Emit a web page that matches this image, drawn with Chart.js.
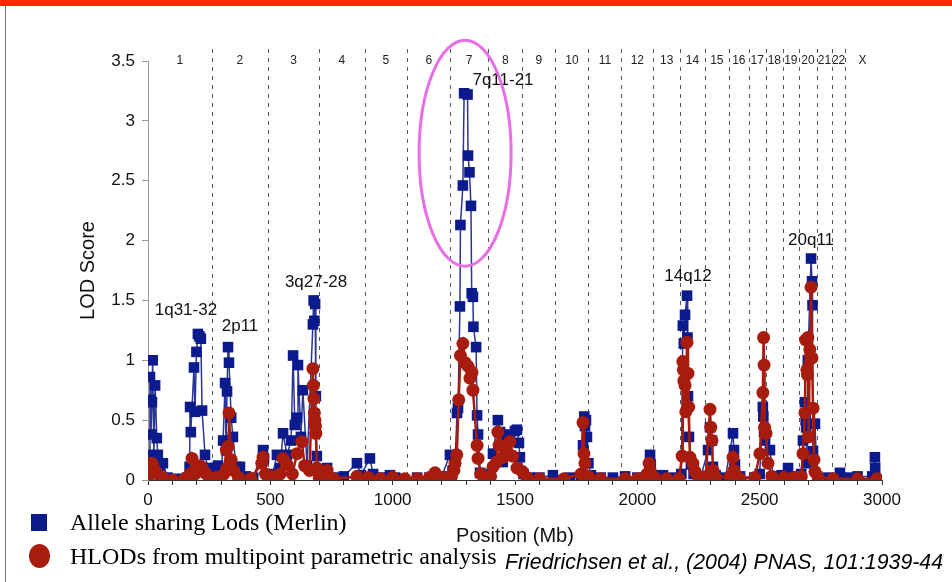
<!DOCTYPE html>
<html>
<head>
<meta charset="utf-8">
<title>LOD scores</title>
<script src="https://cdn.jsdelivr.net/npm/chart.js@4.4.0/dist/chart.umd.min.js"></script>
<style>
  body { margin: 0; background: #fff; }
  #wrap { position: relative; width: 952px; height: 582px; overflow: hidden; background: #fff; }
  #lodChart { position: absolute; left: 0; top: 0; }
  .topbar { position: absolute; left: 0; top: 0; width: 952px; height: 6px; background: #ff2a00; }
  .leftline { position: absolute; left: 5px; top: 6px; width: 1px; height: 576px; background: #777; }
  .sq { position: absolute; left: 31px; top: 514px; width: 16px; height: 17px; background: #0b1a8c; }
  .dot { position: absolute; left: 29px; top: 544px; width: 21px; height: 24px; border-radius: 50%; background: #a81c0e; }
  .leg { position: absolute; left: 70px; font-family: "Liberation Serif", "Times New Roman", serif; font-size: 24px; line-height: 24px; color: #000; white-space: nowrap; }
  .cite { position: absolute; left: 505px; top: 550px; font-family: "Liberation Sans", Arial, sans-serif; font-style: italic; font-size: 21.3px; line-height: 24px; color: #000; white-space: nowrap; }
</style>
</head>
<body>
<div id="wrap">
  <canvas id="lodChart" width="952" height="582"></canvas>
  <div class="topbar"></div>
  <div class="leftline"></div>
  <div class="sq"></div>
  <div class="leg" style="top:510px">Allele sharing Lods (Merlin)</div>
  <div class="dot"></div>
  <div class="leg" style="top:544px">HLODs from multipoint parametric analysis</div>
  <div class="cite">Friedrichsen et al., (2004) PNAS, 101:1939-44</div>
</div>
<script>
// chromosome starts (Mb), last entry is the end of X
const chromStarts = [0, 260, 490, 700, 885, 1060, 1235, 1390, 1530, 1665, 1800, 1935, 2065, 2175, 2275, 2375, 2455, 2525, 2595, 2660, 2735, 2795, 2850, 2990];
const chromNames = ['1', '2', '3', '4', '5', '6', '7', '8', '9', '10', '11', '12', '13', '14', '15', '16', '17', '18', '19', '20', '21', '22', 'X'];

// Allele sharing LODs (Merlin)
const blueX = [0, 5, 8, 11, 12, 16, 19, 24, 29, 36, 40, 48, 61, 80, 120, 160, 170, 172, 175, 188, 192, 198, 204, 210, 216, 221, 233, 245, 260,
  275, 286, 300, 307, 315, 319, 323, 327, 331, 340, 347, 360, 376, 400, 430, 470, 474, 490,
  510, 527, 540, 552, 568, 585, 593, 600, 609, 613, 625, 633, 650, 674, 677, 680, 683, 686, 690, 700,
  732, 760, 800, 854, 870, 907, 920, 950, 989, 1010, 1040, 1100, 1150, 1200, 1234,
  1245, 1255, 1263, 1267, 1275, 1277, 1287, 1292, 1306, 1308, 1314, 1320, 1323, 1328, 1330, 1341, 1345, 1349, 1357, 1380,
  1400, 1410, 1430, 1439, 1450, 1465, 1480, 1500, 1508, 1516, 1520, 1535, 1560, 1600, 1655,
  1725, 1770, 1778, 1783, 1786, 1790, 1794, 1800, 1810, 1850, 1900, 1950, 2000, 2040, 2052, 2055,
  2075, 2105, 2150, 2180, 2186, 2190, 2195, 2203, 2205, 2207, 2211, 2219, 2230,
  2260, 2289, 2297, 2305, 2309, 2320, 2360, 2391, 2395, 2399, 2420,
  2480, 2500, 2513, 2515, 2518, 2522, 2542, 2555, 2590, 2616, 2640,
  2670, 2677, 2685, 2688, 2690, 2693, 2697, 2710, 2714, 2716, 2718, 2726, 2735,
  2780, 2828, 2860, 2900, 2960, 2971, 2972, 2975];
const blueY = [0.10, 0.21, 0.86, 0.67, 0.38, 0.65, 1.00, 0.20, 0.79, 0.35, 0.21, 0.12, 0.14, 0.02, 0.01, 0.02, 0.11, 0.61, 0.40, 0.94, 0.57, 1.07, 1.22, 1.20, 1.18, 0.58, 0.21, 0.10, 0.05,
  0.10, 0.12, 0.06, 0.33, 0.81, 0.25, 0.74, 1.11, 0.98, 0.52, 0.36, 0.11, 0.11, 0.03, 0.02, 0.25, 0.18, 0.04,
  0.05, 0.21, 0.10, 0.39, 0.21, 0.33, 1.04, 0.46, 0.52, 0.96, 0.36, 0.75, 0.12, 1.30, 1.50, 1.33, 1.47, 0.70, 0.20, 0.05,
  0.10, 0.02, 0.03, 0.14, 0.04, 0.18, 0.05, 0.02, 0.04, 0.02, 0.01, 0.02, 0.02, 0.03, 0.21,
  0.08, 0.15, 0.56, 0.60, 1.45, 2.13, 2.46, 3.23, 3.22, 2.71, 2.57, 2.29, 1.56, 1.53, 1.28, 1.11, 0.54, 0.38, 0.06, 0.03,
  0.05, 0.22, 0.50, 0.40, 0.15, 0.35, 0.38, 0.41, 0.42, 0.31, 0.19, 0.05, 0.02, 0.02, 0.04,
  0.02, 0.03, 0.29, 0.53, 0.45, 0.50, 0.36, 0.14, 0.04, 0.02, 0.02, 0.03, 0.02, 0.04, 0.21, 0.13,
  0.04, 0.04, 0.02, 0.05, 1.29, 1.14, 1.38, 1.54, 1.19, 0.70, 0.36, 0.13, 0.05,
  0.03, 0.25, 0.44, 0.33, 0.11, 0.04, 0.02, 0.39, 0.25, 0.13, 0.03,
  0.02, 0.05, 0.61, 0.53, 0.40, 0.33, 0.25, 0.03, 0.04, 0.10, 0.03,
  0.05, 0.33, 0.65, 0.50, 0.44, 0.14, 1.00, 1.85, 1.66, 1.46, 0.24, 0.47, 0.03,
  0.02, 0.06, 0.02, 0.03, 0.03, 0.19, 0.10, 0.01];

// HLODs from multipoint parametric analysis
const redX = [0, 5, 10, 15, 20, 28, 40, 60, 100, 150, 172, 180, 192, 200, 213, 221, 233, 250,
  280, 310, 320, 323, 327, 331, 340, 350, 370, 420, 465, 470, 480,
  510, 540, 552, 568, 590, 609, 629, 640, 660, 674, 676, 678, 680, 682, 684, 686, 690, 700,
  720, 732, 760, 854, 900, 950, 1000, 1050, 1100, 1150, 1173, 1200,
  1240, 1250, 1255, 1262, 1270, 1277, 1287, 1296, 1308, 1316, 1324, 1328, 1345, 1349, 1360, 1380,
  1400, 1410, 1425, 1430, 1435, 1451, 1465, 1479, 1490, 1508, 1530, 1549,
  1600, 1700, 1770, 1778, 1782, 1786, 1800, 1850, 1950, 2000, 2040, 2048, 2052, 2070, 2120, 2170,
  2183, 2186, 2188, 2190, 2195, 2198, 2203, 2207, 2210, 2215, 2227, 2236, 2250,
  2280, 2297, 2300, 2305, 2309, 2320, 2380, 2391, 2395, 2420,
  2480, 2501, 2513, 2516, 2518, 2520, 2526, 2534, 2550, 2600, 2640,
  2670, 2677, 2685, 2688, 2693, 2695, 2697, 2700, 2705, 2710, 2714, 2718, 2722, 2726, 2740,
  2800, 2900, 2980];
const redY = [0.02, 0.05, 0.10, 0.14, 0.12, 0.08, 0.05, 0.02, 0.00, 0.01, 0.05, 0.18, 0.05, 0.08, 0.12, 0.10, 0.06, 0.02,
  0.02, 0.05, 0.25, 0.10, 0.28, 0.56, 0.17, 0.08, 0.02, 0.01, 0.14, 0.19, 0.05,
  0.03, 0.05, 0.18, 0.13, 0.05, 0.22, 0.32, 0.12, 0.08, 0.93, 0.79, 0.68, 0.56, 0.50, 0.45, 0.39, 0.10, 0.02,
  0.03, 0.08, 0.01, 0.03, 0.02, 0.01, 0.02, 0.01, 0.01, 0.02, 0.06, 0.02,
  0.03, 0.08, 0.14, 0.21, 0.67, 1.04, 1.14, 0.98, 0.95, 0.85, 0.90, 0.75, 0.29, 0.18, 0.05, 0.02,
  0.03, 0.11, 0.15, 0.40, 0.29, 0.19, 0.25, 0.32, 0.20, 0.10, 0.07, 0.02,
  0.01, 0.01, 0.05, 0.48, 0.22, 0.14, 0.03, 0.01, 0.01, 0.01, 0.05, 0.14, 0.08, 0.02, 0.01, 0.01,
  0.20, 0.99, 0.92, 0.83, 0.79, 0.57, 1.15, 0.89, 0.61, 0.19, 0.14, 0.07, 0.02,
  0.03, 0.59, 0.44, 0.33, 0.08, 0.02, 0.03, 0.19, 0.08, 0.01,
  0.02, 0.22, 0.73, 1.19, 0.96, 0.44, 0.39, 0.14, 0.03, 0.02, 0.02,
  0.03, 0.22, 0.56, 1.17, 0.92, 0.88, 1.19, 0.36, 1.09, 1.61, 1.02, 0.60, 0.17, 0.07, 0.02,
  0.01, 0.01, 0.01];

// peak annotations: text, position (Mb), LOD
const peakNames = ['1q31-32', '2p11', '3q27-28', '7q11-21', '14q12', '20q11'];
const peakX = [155, 376, 687, 1451, 2207, 2710];
const peakY = [1.42, 1.28, 1.65, 3.34, 1.70, 2.00];

const BLUE = '#0b1a8c';
const RED = '#a81c0e';
const FONT = '"Liberation Sans", Arial, Helvetica, sans-serif';

const toPoints = (xs, ys) => xs.map((x, i) => ({ x: x, y: ys[i] }));

// dashed chromosome borders, chromosome numbers, peak labels and the circled region
const decorPlugin = {
  id: 'decor',
  beforeDatasetsDraw(chart) {
    const { ctx, chartArea, scales: { x } } = chart;
    ctx.save();
    ctx.strokeStyle = '#555';
    ctx.lineWidth = 1;
    ctx.setLineDash([4, 5]);
    for (let i = 1; i < chromStarts.length - 1; i++) {
      const px = Math.round(x.getPixelForValue(chromStarts[i])) + 0.5;
      ctx.beginPath();
      ctx.moveTo(px, chartArea.top - 12);
      ctx.lineTo(px, chartArea.bottom);
      ctx.stroke();
    }
    ctx.setLineDash([]);
    ctx.fillStyle = '#222';
    ctx.font = '12px ' + FONT;
    ctx.textAlign = 'center';
    ctx.textBaseline = 'middle';
    chromNames.forEach((n, i) => {
      const mid = (chromStarts[i] + chromStarts[i + 1]) / 2;
      ctx.fillText(n, x.getPixelForValue(mid), chartArea.top);
    });
    ctx.restore();
  },
  afterDatasetsDraw(chart) {
    const { ctx, scales: { x, y } } = chart;
    ctx.save();
    ctx.fillStyle = '#111';
    ctx.font = '17px ' + FONT;
    ctx.textAlign = 'center';
    ctx.textBaseline = 'middle';
    peakNames.forEach((t, i) => {
      ctx.fillText(t, x.getPixelForValue(peakX[i]), y.getPixelForValue(peakY[i]));
    });
    // circle round the chromosome 7 peak
    const cx = x.getPixelForValue(1296), cy = y.getPixelForValue(2.73);
    const rx = x.getPixelForValue(1296 + 188) - cx;
    const ry = y.getPixelForValue(2.73) - y.getPixelForValue(2.73 + 0.944);
    ctx.strokeStyle = '#e86ee8';
    ctx.lineWidth = 3;
    ctx.beginPath();
    ctx.ellipse(cx, cy, rx, ry, 0, 0, Math.PI * 2);
    ctx.stroke();
    ctx.restore();
  }
};

const ctx = document.getElementById('lodChart').getContext('2d');
new Chart(ctx, {
  type: 'scatter',
  data: {
    datasets: [{
      label: 'HLODs from multipoint parametric analysis',
      data: toPoints(redX, redY),
      showLine: true,
      borderColor: RED,
      borderWidth: 2.5,
      backgroundColor: RED,
      pointStyle: 'circle',
      pointRadius: 6.5,
      pointBorderWidth: 0,
      pointHoverRadius: 6.5
    }, {
      label: 'Allele sharing Lods (Merlin)',
      data: toPoints(blueX, blueY),
      showLine: true,
      borderColor: '#2a3596',
      borderWidth: 1.5,
      backgroundColor: BLUE,
      pointStyle: 'rect',
      pointRadius: 7.5,
      pointBorderWidth: 0,
      pointHoverRadius: 7.5
    }]
  },
  options: {
    responsive: false,
    animation: false,
    layout: { padding: { left: 0, right: 70, top: 61, bottom: 0 } },
    plugins: {
      legend: { display: false },
      tooltip: { enabled: false }
    },
    scales: {
      x: {
        type: 'linear',
        min: 0,
        max: 3000,
        afterFit: (s) => { s.height = 102; },
        border: { display: true, color: '#333', width: 1 },
        grid: { drawOnChartArea: false, drawTicks: true, tickLength: 5, color: '#333' },
        ticks: {
          stepSize: 100,
          autoSkip: false,
          maxRotation: 0,
          padding: 5,
          color: '#111',
          font: { family: FONT, size: 17 },
          callback: (v) => (v % 500 === 0 ? String(v) : '')
        },
        title: {
          display: true,
          text: 'Position (Mb)',
          color: '#111',
          font: { family: FONT, size: 20 },
          padding: { top: 0, bottom: 34 }
        }
      },
      y: {
        min: 0,
        max: 3.5,
        afterFit: (s) => { s.width = 148; },
        border: { display: true, color: '#999', width: 1 },
        grid: { drawOnChartArea: false, drawTicks: true, tickLength: 6, color: '#999' },
        ticks: {
          stepSize: 0.5,
          padding: 7,
          color: '#111',
          font: { family: FONT, size: 17 },
          callback: (v) => String(v)
        },
        title: {
          display: true,
          text: 'LOD Score',
          color: '#111',
          font: { family: FONT, size: 20 },
          padding: { top: 76, bottom: 0 }
        }
      }
    }
  },
  plugins: [decorPlugin]
});
</script>
</body>
</html>
